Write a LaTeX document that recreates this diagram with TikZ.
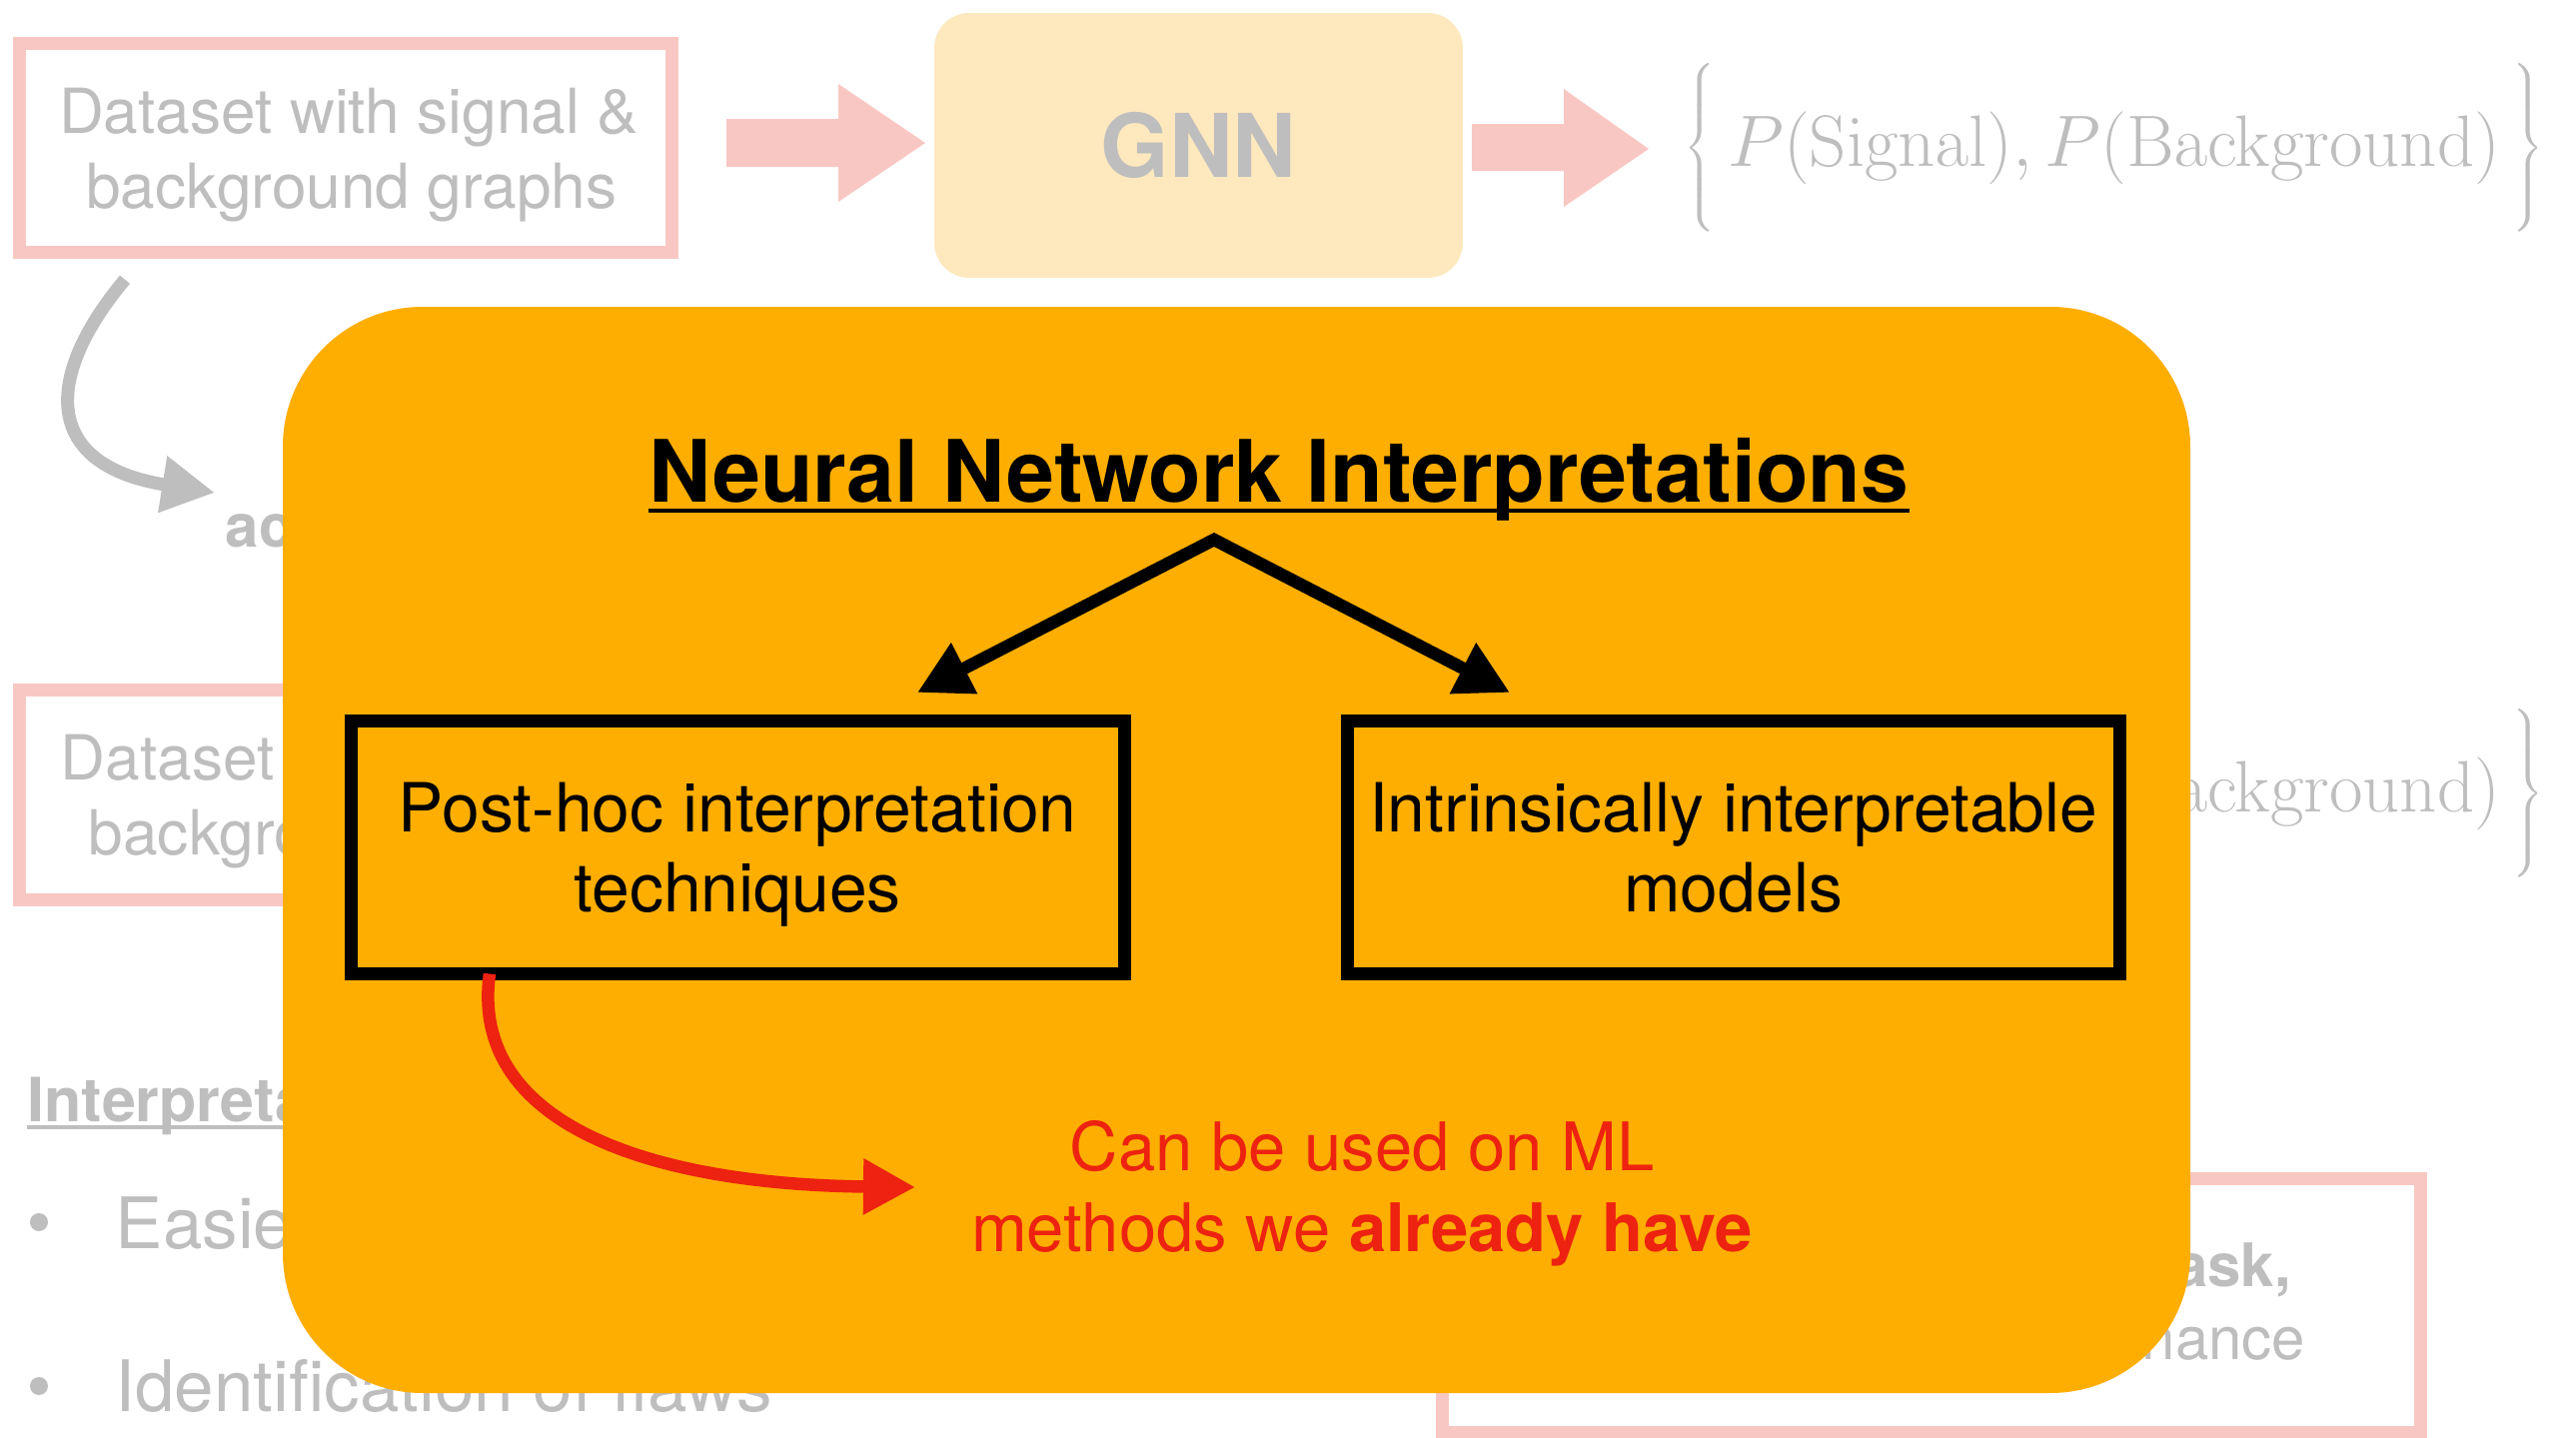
\documentclass[tikz,border=0pt]{standalone}
\usepackage[no-math]{fontspec}
\setmainfont{TeX Gyre Heros}
\usetikzlibrary{arrows.meta,calc}
\definecolor{pinkc}{RGB}{249,199,195}
\definecolor{grayc}{RGB}{190,190,190}
\definecolor{gnnc}{RGB}{254,232,190}
\definecolor{orangec}{RGB}{254,174,0}
\definecolor{redc}{RGB}{237,34,16}
\newcommand\fsA{\fontsize{17.07pt}{21.34pt}\selectfont}
\newcommand\fsD{\fontsize{17.7pt}{21.34pt}\selectfont}
\newcommand\fsB{\fontsize{19.06pt}{22.76pt}\selectfont}
\newcommand\fsE{\fontsize{19.3pt}{22.76pt}\selectfont}
\newcommand\fsC{\fontsize{20.2pt}{23pt}\selectfont}
\newcommand\fsM{\fontsize{19.35pt}{22pt}\selectfont}
\newcommand\nodepth[1]{\raisebox{0pt}[\height][0pt]{#1}}
\begin{document}
\begin{tikzpicture}[x=0.1mm,y=-0.1mm,
  pinkbox/.style={draw=pinkc, line width=1.3mm, inner sep=0pt, outer sep=0pt},
  graytext/.style={text=grayc, font=\fsA, inner sep=0pt},
  blackbox/.style={draw=black, line width=1.3mm, inner sep=0pt, outer sep=0pt,
    align=center, font=\fsE, minimum height=25.3mm},
  redtext/.style={text=redc, font=\fsB, inner sep=0pt},
  blackarrow/.style={draw=black, line width=1.25mm, line join=miter,
    {Triangle[length=5.3mm,width=5.4mm]}-{Triangle[length=5.3mm,width=5.4mm]}},
  redarrow/.style={draw=redc, line width=1.25mm, -{Triangle[length=5.2mm,width=5.3mm]}},
  grayarrow/.style={draw=grayc, line width=1.3mm, -{Triangle[length=5.3mm,width=5.4mm]}},
  mathtext/.style={text=grayc, inner sep=0pt}
]
\useasboundingbox (0,0) rectangle (2578,1439);
\fill[white] (0,0) rectangle (2578,1439);

% ---------- faded background layer ----------
% row 1
\node[pinkbox, minimum width=65.3mm, minimum height=20.95mm] (ds1) at (345.5,148) {};
\node[graytext, font=\fsD, anchor=base] (ds1a) at (349,133) {Dataset with signal \&};
\node[graytext, font=\fsD, anchor=base] (ds1b) at (352,208) {background graphs};

\fill[pinkc] (727,119) -- (839,119) -- (839,84) -- (926,143) -- (839,202) -- (839,167) -- (727,167) -- cycle;
\node[fill=gnnc, rounded corners=3.5mm, minimum width=52.9mm, minimum height=26.5mm,
      inner sep=0pt, text=grayc, font=\fontsize{25.04pt}{28pt}\selectfont\bfseries] (gnn) at (1199.5,145.5) {GNN};
\fill[pinkc] (1473,124) -- (1565,124) -- (1565,89) -- (1650,149) -- (1565,207) -- (1565,171) -- (1473,171) -- cycle;

\node[mathtext, anchor=base west] (f1) at (1685,166) {\fsM$\left\{\vphantom{\rule[-0.95em]{0pt}{2.4em}}\,P(\mathrm{Signal}), P(\mathrm{Background})\,\right\}$};

% curved grey arrow
\coordinate (g0) at ($(ds1.south west)+(106,27)$);
\node[graytext, font=\fsA\bfseries, anchor=base west] (ac) at (225,547) {ac};
\coordinate (g1) at ($(ac.base west)+(-10,-54)$);
\draw[grayarrow] (g0) .. controls (45,375) and (40,465) .. (g1);

% row 2
\node[pinkbox, minimum width=65.3mm, minimum height=21mm] (ds2) at (345.5,795) {};
\node[graytext, font=\fsD, anchor=base west] (ds2a) at (60,780) {Dataset};
\node[graytext, font=\fsD, anchor=base west] (ds2b) at (88,855) {backgro};
\node[mathtext, anchor=base east] (f2) at (f1.base east |- 0,812) {\fsM$\left.\vphantom{\rule[-0.95em]{0pt}{2.4em}}\mathrm{ackground})\,\right\}$};

% bottom left
\node[graytext, font=\fontsize{17.36pt}{20pt}\selectfont\bfseries, anchor=base west] (interp) at (27,1122) {Interpreta};
\draw[grayc, line width=0.4mm] ($(interp.base west)+(0,6)$) -- ++(300,0);
\fill[grayc] (39,1223) circle (0.9mm);
\fill[grayc] (39,1387) circle (0.9mm);
\node[graytext, font=\fsC, anchor=base west] (b1) at (115,1249) {Easie};
\node[graytext, font=\fsC, anchor=base west] (b2) at (115,1412) {Identification of flaws};

% bottom right
\node[pinkbox, minimum width=97.9mm, minimum height=25.4mm] (br) at (1932.5,1306) {};
\node[graytext, font=\fsA\bfseries, anchor=base east] (bra) at (2294,1287) {ask,};
\node[graytext, anchor=base east] (brb) at (2308,1360) {nance};

% ---------- orange panel ----------
\node[fill=orangec, rounded corners=14mm, minimum width=190.9mm, minimum height=108.7mm,
      inner sep=0pt] (panel) at (1237.5,850.5) {};

\node[font=\fontsize{24.5pt}{28pt}\selectfont\bfseries, anchor=base, inner sep=0pt] (title) at (1280,502) {Neural Network Interpretations};
\draw[black, line width=0.45mm] ($(title.base west)+(0,9)$) -- ($(title.base east)+(0,9)$);

\node[blackbox, minimum width=77.45mm] (post) at (738.25,848)
  {Post-hoc interpretation\\\nodepth{techniques}};
\node[blackbox, minimum width=77.35mm] (intr) at (1734.75,848)
  {Intrinsically interpretable\\models};

\coordinate (apex) at (1215,540);
\coordinate (lt) at (918,693);
\coordinate (rt) at (1511,693);
\draw[blackarrow] (lt) -- (apex) -- (rt);

\node[redtext, anchor=base] (can1) at (1363,1171) {Can be used on ML};
\node[redtext, anchor=base] (can2) at (1363,1252) {methods we \textbf{already have}};
\coordinate (r0) at ($(post.south west)+(139,0)$);
\coordinate (r1) at (916,1188);
\draw[redarrow] (r0) .. controls (470,1120) and (640,1185) .. (r1);
\end{tikzpicture}
\end{document}
